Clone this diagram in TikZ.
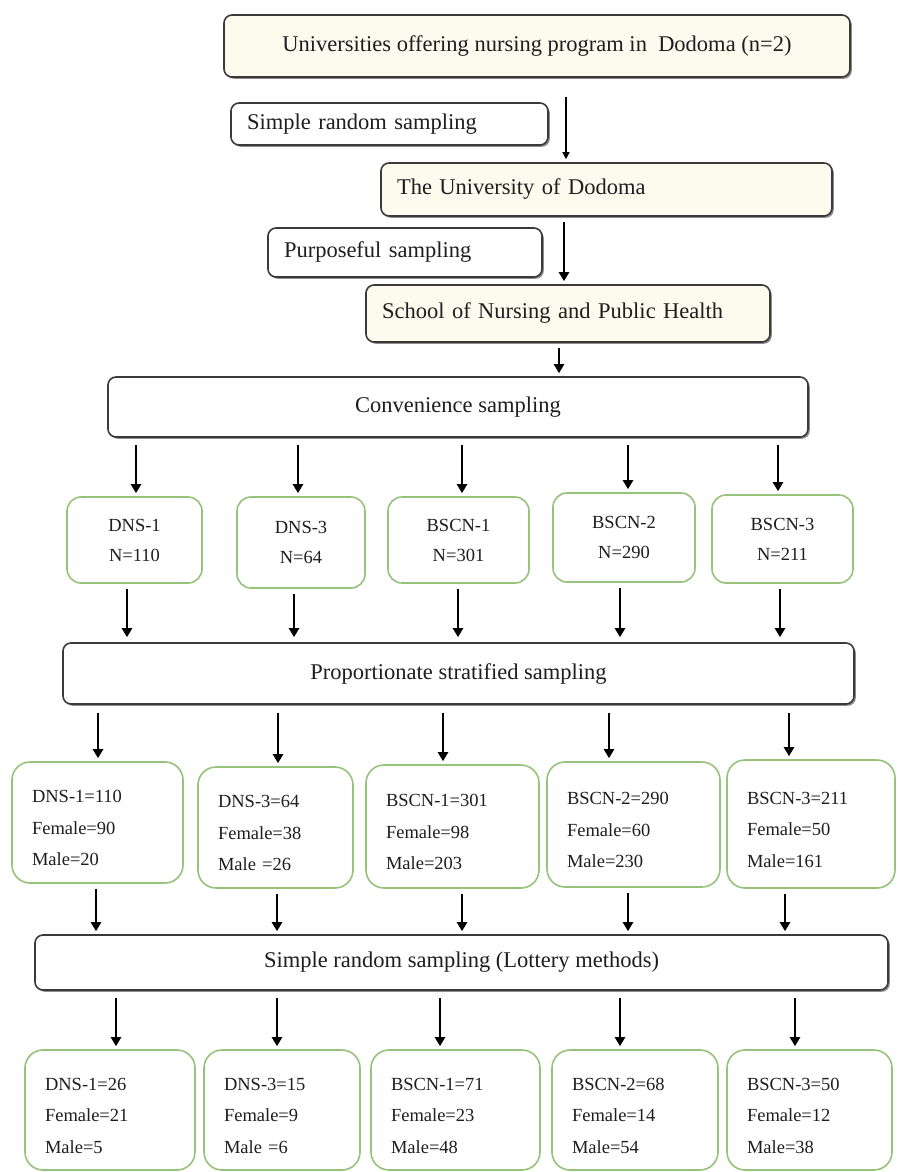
\documentclass[tikz,border=0pt]{standalone}
\usepackage{fontspec}
\setmainfont{Liberation Serif}
\usetikzlibrary{arrows.meta,shadows}
\definecolor{cream}{HTML}{FCFBEE}
\definecolor{edge}{HTML}{3A3A3A}
\definecolor{leaf}{HTML}{97C27B}
\definecolor{ink}{HTML}{1E1E1E}
\tikzset{
 base/.style={rectangle, rounded corners=8pt, draw=edge, line width=1.6pt, text=ink,
   font=\fontsize{22.5}{27}\selectfont, inner sep=0pt,
   drop shadow={shadow xshift=1.8pt, shadow yshift=-1.8pt, fill=black, opacity=0.45}},
 wide/.style={base, fill=white, align=center},
 topbox/.style={base, fill=cream, align=center},
 tag/.style={base, fill=white, align=left, inner xsep=16pt},
 stage/.style={base, fill=cream, align=left, inner xsep=16pt},
 grp/.style={rectangle, rounded corners=14pt, draw=leaf, line width=1.6pt, fill=white, text=ink,
   font=\fontsize{18.5}{30}\selectfont, align=center, inner sep=0pt,
   execute at begin node={\rule{0pt}{24pt}}},
 sub/.style={grp, rounded corners=18pt, align=left, inner xsep=20pt, font=\fontsize{18.5}{31.5}\selectfont},
 arr/.style={draw=black, line width=2.6pt, -{Triangle[length=9pt,width=10pt]}, shorten <=5pt, shorten >=3pt},
}
\newcommand\bx[7]{\node[#6, minimum width={#4-#2}, minimum height={#5-#3}] (#1) at ({(#2+#4)/2},{(#3+#5)/2}) {#7};}
\begin{document}
\begin{tikzpicture}[x=1pt,y=-1pt]
\useasboundingbox (0,0) rectangle (897,1172);
% top part
\bx{u}{224}{15}{850}{77}{topbox}{Universities offering nursing program in \ Dodoma (n=2)}
\bx{srsa}{231}{103}{548}{145}{tag, text width=285pt}{Simple random sampling}
\bx{uni}{381}{163}{832}{216}{stage, text width=419pt}{The University of Dodoma}
\bx{purp}{268}{228}{542}{277}{tag, text width=242pt}{Purposeful sampling}
\bx{school}{366}{285}{770}{342}{stage, text width=372pt}{School of Nursing and Public Health}
\bx{conv}{108}{377}{808}{437}{wide}{Convenience sampling}
% row 1
\bx{a1}{67}{497}{202}{583}{grp}{DNS-1\\N=110}
\bx{b1}{237}{497}{365}{588}{grp}{DNS-3\\N=64}
\bx{c1}{388}{497}{529}{583}{grp}{BSCN-1\\N=301}
\bx{d1}{553}{493}{695}{582}{grp}{BSCN-2\\N=290}
\bx{e1}{712}{495}{853}{583}{grp}{BSCN-3\\N=211}
\bx{prop}{63}{643}{854}{704}{wide}{Proportionate stratified sampling}
% row 2
\bx{a2}{12}{762}{183}{883}{sub, text width=131pt}{DNS-1=110\\Female=90\\Male=20}
\bx{b2}{198}{767}{353}{888}{sub, text width=115pt}{DNS-3=64\\Female=38\\Male =26}
\bx{c2}{366}{765}{539}{888}{sub, text width=133pt}{BSCN-1=301\\Female=98\\Male=203}
\bx{d2}{547}{762}{720}{887}{sub, text width=133pt}{BSCN-2=290\\Female=60\\Male=230}
\bx{e2}{727}{760}{895}{888}{sub, text width=128pt}{BSCN-3=211\\Female=50\\Male=161}
\bx{srsb}{35}{935}{888}{990}{wide}{Simple random sampling (Lottery methods)}
% row 3
\bx{a3}{25}{1050}{195}{1170}{sub, text width=130pt}{DNS-1=26\\Female=21\\Male=5}
\bx{b3}{204}{1050}{360}{1170}{sub, text width=116pt}{DNS-3=15\\Female=9\\Male =6}
\bx{c3}{371}{1050}{540}{1170}{sub, text width=129pt}{BSCN-1=71\\Female=23\\Male=48}
\bx{d3}{552}{1050}{718}{1170}{sub, text width=126pt}{BSCN-2=68\\Female=14\\Male=54}
\bx{e3}{727}{1050}{892}{1170}{sub, text width=125pt}{BSCN-3=50\\Female=12\\Male=38}
% connectors
\draw[arr, line width=1.2pt, shorten <=19pt, -{Triangle[length=7pt,width=7pt]}] (u.south -| 566,0) -- (uni.north -| 566,0);
\draw[arr] (uni.south -| 564,0) -- (school.north -| 564,0);
\draw[arr] (school.south -| 559,0) -- (conv.north -| 559,0);
\foreach \t/\x in {a1/136,b1/298,c1/462,d1/628,e1/778}
  \draw[arr, shorten <=7pt] (conv.south -| \x,0) -- (\t.north -| \x,0);
\foreach \s/\x in {a1/127,b1/294,c1/458,d1/620,e1/780}
  \draw[arr, shorten >=5pt] (\s.south -| \x,0) -- (prop.north -| \x,0);
\foreach \t/\x in {a2/98,b2/278,c2/443,d2/609,e2/789}
  \draw[arr, shorten <=8pt] (prop.south -| \x,0) -- (\t.north -| \x,0);
\foreach \s/\x in {a2/96,b2/277,c2/462,d2/628,e2/785}
  \draw[arr] (\s.south -| \x,0) -- (srsb.north -| \x,0);
\foreach \t/\x in {a3/116,b3/277,c3/440,d3/620,e3/795}
  \draw[arr, shorten <=7pt] (srsb.south -| \x,0) -- (\t.north -| \x,0);
\end{tikzpicture}
\end{document}
